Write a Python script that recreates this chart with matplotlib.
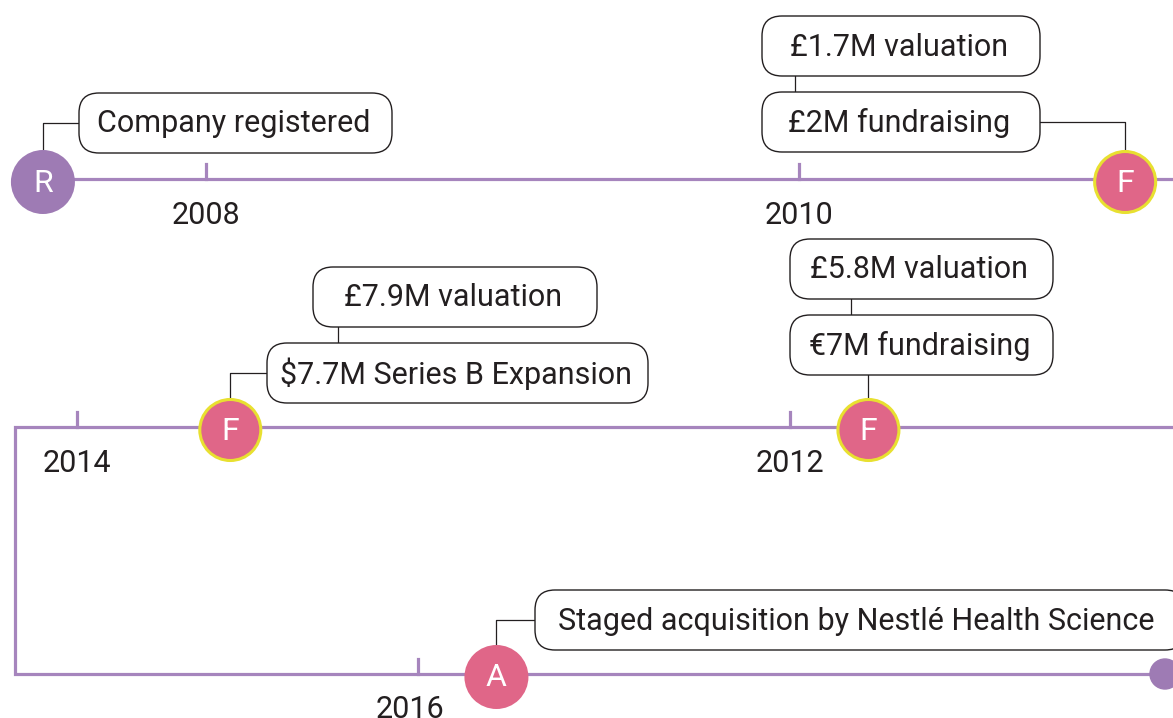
import matplotlib
matplotlib.use("Agg")
from matplotlib import pyplot as plt
from matplotlib.patches import Circle, FancyBboxPatch

# timeline data
tick_years = [[2008, 2010], [2012, 2014], [2016]]
event_years = [2007.45, 2011.1, 2011.78, 2013.57, 2016.22]
event_rows = [0, 0, 1, 1, 2]
event_letters = ["R", "F", "F", "F", "A"]
event_notes = [
    ["Company registered"],
    ["£1.7M valuation", "£2M fundraising"],
    ["£5.8M valuation", "€7M fundraising"],
    ["£7.9M valuation", "$7.7M Series B Expansion"],
    ["Staged acquisition by Nestlé Health Science"],
]

# layout (pixels)
W, H = 1173, 718
row_y = [179, 427, 674]
# x = x0 + (year - y0) * scale
row_map = [(206, 2008, 296.5), (790, 2012, -356.5), (418, 2016, 356.5)]
# per event boxes: (left, top, width), top box first
box_layout = [
    [(79, 93, 313)],
    [(762, 16, 278), (762, 92, 278)],
    [(790, 239, 263), (790, 315, 263)],
    [(313, 267, 284), (267, 343, 381)],
    [(535, 590, 650)],
]
stack_link = [None, 795, 851, 338, None]

purple = "#a685bd"
r_col = "#9e7bb4"
pink = "#e06688"
yellow = "#e8e030"
ink = "#231f20"
box_h = 60
rad = 32
fs = 22

plt.rcParams["font.family"] = ["Roboto", "DejaVu Sans"]

fig = plt.figure(figsize=(W / 100, H / 100), dpi=100)
ax = fig.add_axes([0, 0, 1, 1])
ax.set_xlim(0, W)
ax.set_ylim(H, 0)
ax.axis("off")


def year_x(row, yr):
    x0, y0, s = row_map[row]
    return x0 + (yr - y0) * s


# snake line
lw = 2.3
ax.plot([42, W + 5], [row_y[0]] * 2, color=purple, lw=lw, zorder=1, solid_capstyle="butt")
ax.plot([W + 5, 15, 15, 1165], [row_y[1], row_y[1], row_y[2], row_y[2]],
        color=purple, lw=lw, zorder=1, solid_joinstyle="miter")
ax.add_patch(Circle((1165, row_y[2]), 15, color=r_col, zorder=3))

# ticks and year labels
for r, yrs in enumerate(tick_years):
    for yr in yrs:
        x = year_x(r, yr)
        ax.plot([x, x], [row_y[r] - 15, row_y[r]], color=purple, lw=lw, zorder=1)
        ax.text(x - (8 if yr == 2016 else 0), row_y[r] + 36, str(yr), ha="center", va="center",
                fontsize=fs, color=ink)

# events
for i, yr in enumerate(event_years):
    r = event_rows[i]
    cx = year_x(r, yr)
    cy = row_y[r] + 3
    letter = event_letters[i]
    if letter == "R":
        ax.add_patch(Circle((cx, cy), rad, facecolor=r_col, edgecolor="none", zorder=3))
    elif letter == "F":
        ax.add_patch(Circle((cx, cy), rad - 1.5, facecolor=pink, edgecolor=yellow, lw=2.2, zorder=3))
    else:
        ax.add_patch(Circle((cx, cy), rad, facecolor=pink, edgecolor="none", zorder=3))
    ax.text(cx, cy + 1, letter, ha="center", va="center", color="white", fontsize=23, zorder=4)

    boxes = box_layout[i]
    for (bx, by, bw), note in zip(boxes, event_notes[i]):
        ax.add_patch(FancyBboxPatch((bx, by), bw, box_h,
                                    boxstyle="round,pad=0,rounding_size=20",
                                    facecolor="white", edgecolor=ink, lw=1.0, zorder=2))
        if bx + bw > W:
            ax.text(bx + 23, by + box_h / 2 + 1, note, ha="left", va="center",
                    fontsize=fs, color=ink, zorder=3)
        else:
            ax.text(bx + bw / 2 - 2, by + box_h / 2 + 1, note, ha="center", va="center",
                    fontsize=fs, color=ink, zorder=3)

    # link between stacked boxes
    if stack_link[i] is not None:
        top_box = boxes[0]
        ax.plot([stack_link[i]] * 2, [top_box[1] + box_h, boxes[1][1]],
                color=ink, lw=0.9, zorder=1)

    # connector from marker to lowest box
    bx, by, bw = boxes[-1]
    top = cy - rad
    if bx <= cx <= bx + bw:
        ax.plot([cx, cx], [top, by + box_h], color=ink, lw=0.9, zorder=1)
    else:
        mid = by + box_h / 2
        edge = bx if cx < bx else bx + bw
        ax.plot([cx, cx, edge], [top, mid, mid], color=ink, lw=0.9, zorder=1)

fig.savefig("out.png", dpi=100)
